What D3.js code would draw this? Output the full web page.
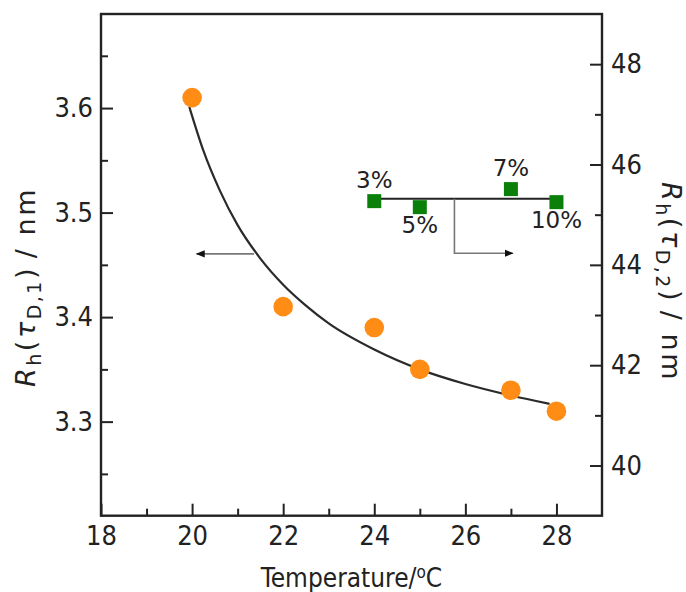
<!DOCTYPE html>
<html>
<head>
<meta charset="utf-8">
<script src="https://cdn.jsdelivr.net/npm/d3@7"></script>
<style>
html,body{margin:0;padding:0;background:#fff;}
svg{display:block;}
</style>
</head>
<body>
<svg id="chart" width="686" height="592"></svg>
<script>
// ---- data ----
const temperatures = [20, 22, 24, 25, 27, 28];
const rhD1 = [3.61, 3.41, 3.39, 3.35, 3.33, 3.31];
const fitT = [19.94, 20.25, 20.61, 21.0, 21.5, 22.0, 22.5, 23.0, 24.0, 25.0, 26.0, 27.0, 27.85];
const fitR = [3.601, 3.559, 3.521, 3.488, 3.456, 3.431, 3.411, 3.394, 3.369, 3.350, 3.336, 3.325, 3.317];
const concLabels = ["3%", "5%", "7%", "10%"];
const concT = [24, 25, 27, 28];
const rhD2 = [45.27, 45.15, 45.51, 45.25];
const concLabelSide = ["above", "below", "above", "below"];
const rhD2Mean = 45.32;
const xTicks = [18, 20, 22, 24, 26, 28];
const xMinor = [19, 21, 23, 25, 27];
const yLTicks = [3.3, 3.4, 3.5, 3.6];
const yLMinor = [3.25, 3.35, 3.45, 3.55, 3.65];
const yRTicks = [40, 42, 44, 46, 48];
const yRMinor = [41, 43, 45, 47];
// annotation arrows (data coords)
const leftArrow = {from: 21.36, to: 20.1, y: 3.4605};
const rightArrow = {x: 25.76, yTop: 45.32, yBot: 44.23, to: 27.04};

// ---- layout ----
const svg = d3.select("#chart");
const L = 101, R = 602, T = 14, B = 515.7;
const x = d3.scaleLinear().domain([18, 29]).range([L, R]);
const yL = d3.scaleLinear().domain([3.21, 3.69]).range([B, T]);
const yR = d3.scaleLinear().domain([39, 49]).range([B, T]);
const tickFont = "'DejaVu Sans Condensed', 'DejaVu Sans', sans-serif";
const frameColor = "#222";

svg.append("defs").append("marker")
  .attr("id", "ah").attr("viewBox", "0 0 10 10").attr("refX", 9).attr("refY", 5)
  .attr("markerWidth", 9).attr("markerHeight", 9).attr("markerUnits", "userSpaceOnUse")
  .attr("orient", "auto")
  .append("path").attr("d", "M0,1 L10,5 L0,9 Z").attr("fill", "#111");

// axes (ticks inward)
const gx = svg.append("g").attr("transform", `translate(0,${B})`)
  .call(d3.axisBottom(x).tickValues(xTicks).tickSize(-12).tickPadding(10).tickFormat(d3.format("d")));
const gxm = svg.append("g").attr("transform", `translate(0,${B})`)
  .call(d3.axisBottom(x).tickValues(xMinor).tickSize(-7).tickFormat(""));
const gl = svg.append("g").attr("transform", `translate(${L},0)`)
  .call(d3.axisLeft(yL).tickValues(yLTicks).tickSize(-12).tickPadding(8).tickFormat(d3.format(".1f")));
const glm = svg.append("g").attr("transform", `translate(${L},0)`)
  .call(d3.axisLeft(yL).tickValues(yLMinor).tickSize(-7).tickFormat(""));
const gr = svg.append("g").attr("transform", `translate(${R},0)`)
  .call(d3.axisRight(yR).tickValues(yRTicks).tickSize(-12).tickPadding(9).tickFormat(d3.format("d")));
const grm = svg.append("g").attr("transform", `translate(${R},0)`)
  .call(d3.axisRight(yR).tickValues(yRMinor).tickSize(-7).tickFormat(""));

[gx, gxm, gl, glm, gr, grm].forEach(g => {
  g.select(".domain").remove();
  g.selectAll(".tick line").attr("stroke", frameColor).attr("stroke-width", 2);
  g.selectAll(".tick text").attr("font-family", tickFont).attr("font-size", 27).attr("fill", "#222");
});

// frame
svg.append("rect").attr("x", L).attr("y", T).attr("width", R - L).attr("height", B - T)
  .attr("fill", "none").attr("stroke", frameColor).attr("stroke-width", 2.4);

// fit curve
svg.append("path")
  .datum(fitT.map((t, i) => [t, fitR[i]]))
  .attr("d", d3.line().x(d => x(d[0])).y(d => yL(d[1])).curve(d3.curveMonotoneX))
  .attr("fill", "none").attr("stroke", "#2a2a2a").attr("stroke-width", 2.2);

// orange points
svg.append("g").selectAll("circle").data(temperatures).join("circle")
  .attr("cx", d => x(d)).attr("cy", (d, i) => yL(rhD1[i])).attr("r", 9.8)
  .attr("fill", "#ff8c14");

// mean line for rhD2
svg.append("line")
  .attr("x1", x(concT[0])).attr("x2", x(concT[concT.length - 1]))
  .attr("y1", yR(rhD2Mean)).attr("y2", yR(rhD2Mean))
  .attr("stroke", "#222").attr("stroke-width", 2);

// green squares
const sq = 14;
svg.append("g").selectAll("rect").data(concT).join("rect")
  .attr("x", d => x(d) - sq / 2).attr("y", (d, i) => yR(rhD2[i]) - sq / 2)
  .attr("width", sq).attr("height", sq).attr("fill", "#0a800a");

svg.append("g").selectAll("text").data(concLabels).join("text")
  .attr("x", (d, i) => x(concT[i]))
  .attr("y", (d, i) => yR(rhD2[i]) + (concLabelSide[i] === "above" ? -13.5 : 25.5))
  .attr("text-anchor", "middle")
  .attr("font-family", "'DejaVu Sans', sans-serif").attr("font-size", 23).attr("fill", "#222")
  .text(d => d);

// arrows
svg.append("line")
  .attr("x1", x(leftArrow.from)).attr("x2", x(leftArrow.to))
  .attr("y1", yL(leftArrow.y)).attr("y2", yL(leftArrow.y))
  .attr("stroke", "#777").attr("stroke-width", 1.6).attr("marker-end", "url(#ah)");
svg.append("path")
  .attr("d", `M${x(rightArrow.x)},${yR(rightArrow.yTop)} V${yR(rightArrow.yBot)} H${x(rightArrow.to)}`)
  .attr("fill", "none").attr("stroke", "#777").attr("stroke-width", 1.6).attr("marker-end", "url(#ah)");

// axis titles
const labFont = "'DejaVu Sans Condensed', 'DejaVu Sans', sans-serif";
svg.append("text")
  .attr("x", (L + R) / 2).attr("y", 587).attr("text-anchor", "middle")
  .attr("font-family", labFont).attr("font-size", 26).attr("fill", "#222")
  .call(t => {
    t.append("tspan").text("Temperature/");
    t.append("tspan").attr("font-size", 17).attr("dy", -9).text("o");
    t.append("tspan").attr("dy", 9).text("C");
  });

function rhLabel(sel, idx) {
  sel.append("tspan").attr("font-style", "italic").text("R");
  sel.append("tspan").attr("font-size", 19).attr("dy", 6).text("h");
  sel.append("tspan").attr("dy", -6).text("(");
  sel.append("tspan").attr("font-style", "italic").text("τ");
  sel.append("tspan").attr("font-size", 19).attr("dy", 6).text("D," + idx);
  sel.append("tspan").attr("dy", -6).text(")\u2009/ nm");
}
svg.append("text")
  .attr("transform", "translate(35,287) rotate(-90)")
  .attr("text-anchor", "middle").attr("letter-spacing", 2.5)
  .attr("font-family", "'DejaVu Sans', sans-serif").attr("font-size", 27).attr("fill", "#222")
  .call(t => rhLabel(t, 1));
svg.append("text")
  .attr("transform", "translate(662,282) rotate(90)")
  .attr("text-anchor", "middle").attr("letter-spacing", 2.5)
  .attr("font-family", "'DejaVu Sans', sans-serif").attr("font-size", 27).attr("fill", "#222")
  .call(t => rhLabel(t, 2));
</script>
</body>
</html>
